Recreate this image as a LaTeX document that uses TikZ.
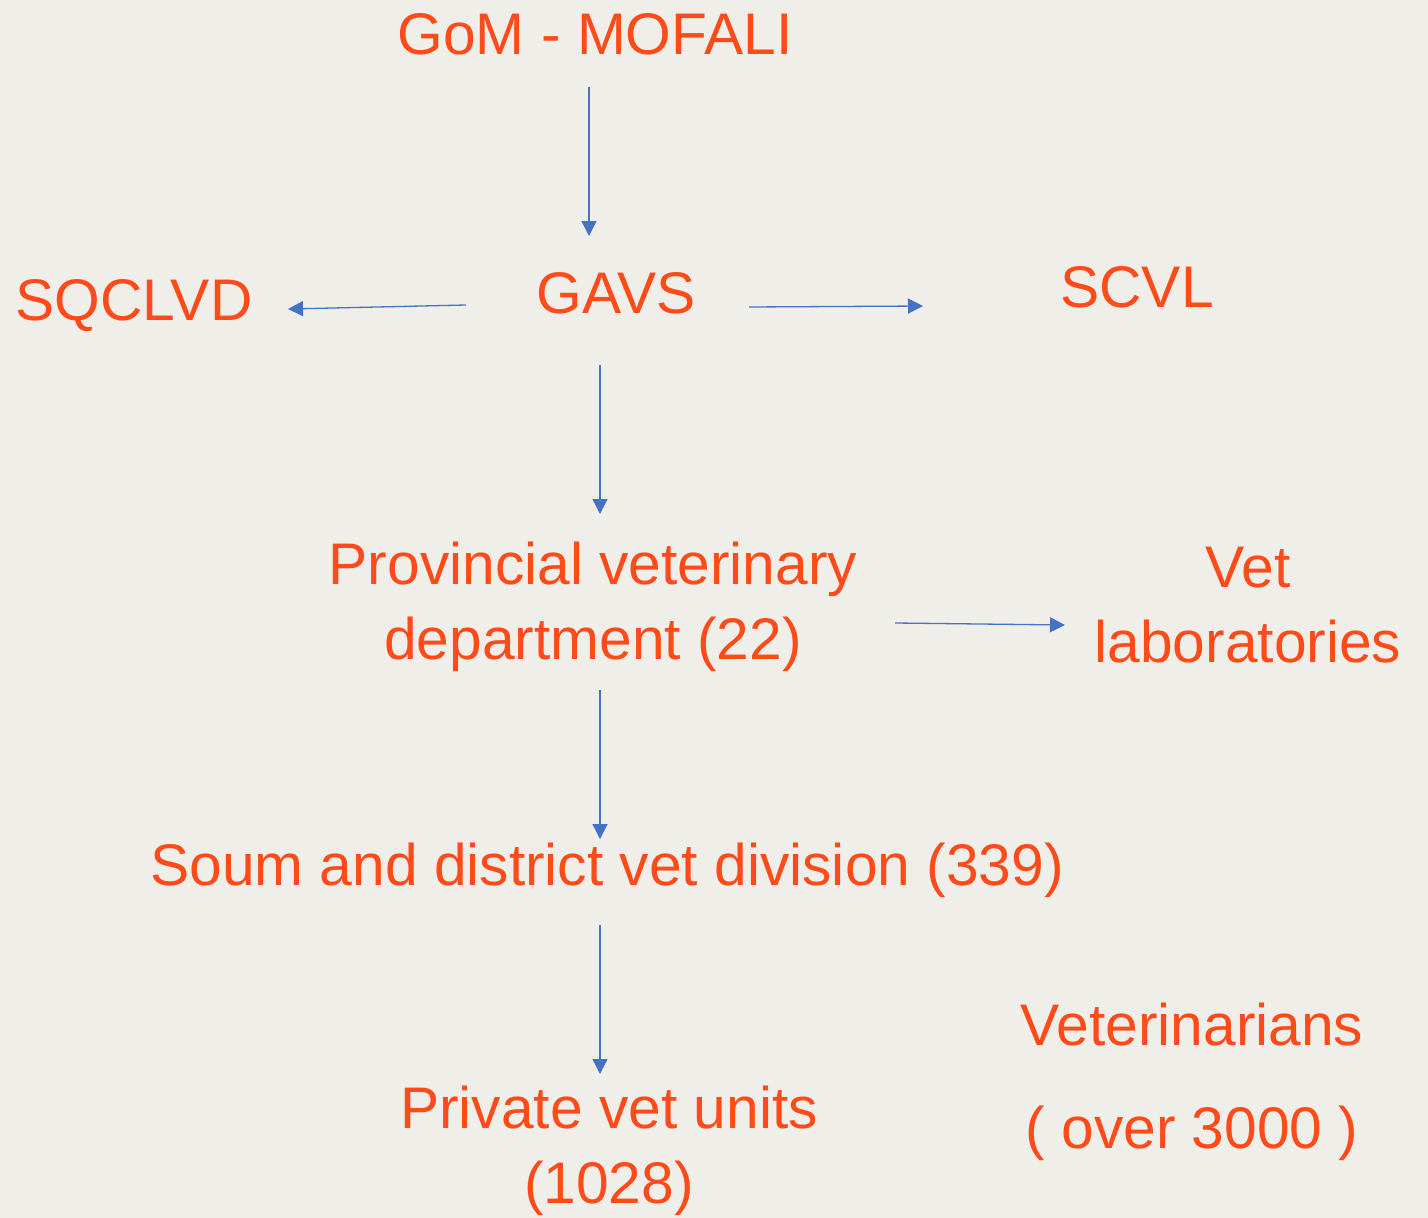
\documentclass[tikz,border=0pt]{standalone}
\usepackage{fontspec}
\setmainfont{Liberation Sans}
\usetikzlibrary{arrows.meta}
\definecolor{bgc}{RGB}{240,238,233}
\definecolor{txt}{RGB}{255,74,26}
\definecolor{arr}{RGB}{68,114,196}
\begin{document}
\begin{tikzpicture}[x=1pt,y=-1pt,
  lbl/.style={text=txt,font=\fontsize{58.7}{75}\selectfont,inner sep=0pt,anchor=base},
  lbl2/.style={text=txt,font=\fontsize{58.7}{75}\selectfont,inner sep=0pt,align=center},
  conn/.style={draw=arr,line width=1.3pt,-{Triangle[length=15pt,width=15pt]}}]
\fill[bgc] (0,0) rectangle (1428,1218);
\useasboundingbox (0,0) rectangle (1428,1218);
\node[lbl] (gom) at (595,54) {GoM - MOFALI};
\node[lbl] (gavs) at (616,313) {GAVS};
\node[lbl] (sqclvd) at (134,320) {SQCLVD};
\node[lbl] (scvl) at (1137,307) {SCVL};
\node[lbl2] (prov) at (593,607) {Provincial veterinary\\department (22)};
\node[lbl2] (lab) at (1248,605) {Vet\\laboratories};
\node[lbl] (soum) at (607,885) {Soum and district vet division (339)};
\node[lbl2] (priv) at (609,1151) {Private vet units\\(1028)};
\node[lbl2] (vets) at (1192,1082) {Veterinarians\\[28pt]( over 3000 )};
\coordinate (gomout) at (589,87);
\coordinate (gavsin) at (589,236);
\coordinate (gavsl) at (466,305);
\coordinate (sqin) at (288,309);
\coordinate (gavsr) at (749,307);
\coordinate (scin) at (923,306);
\coordinate (gavsb) at (600,365);
\coordinate (provin) at (600,514);
\coordinate (provr) at (895,623);
\coordinate (labin) at (1065,625);
\coordinate (provb) at (600,690);
\coordinate (soumin) at (600,839);
\coordinate (soumb) at (600,925);
\coordinate (privin) at (600,1074);
\draw[conn] (gomout) -- (gavsin);
\draw[conn] (gavsl) -- (sqin);
\draw[conn] (gavsr) -- (scin);
\draw[conn] (gavsb) -- (provin);
\draw[conn] (provr) -- (labin);
\draw[conn] (provb) -- (soumin);
\draw[conn] (soumb) -- (privin);
\end{tikzpicture}
\end{document}
